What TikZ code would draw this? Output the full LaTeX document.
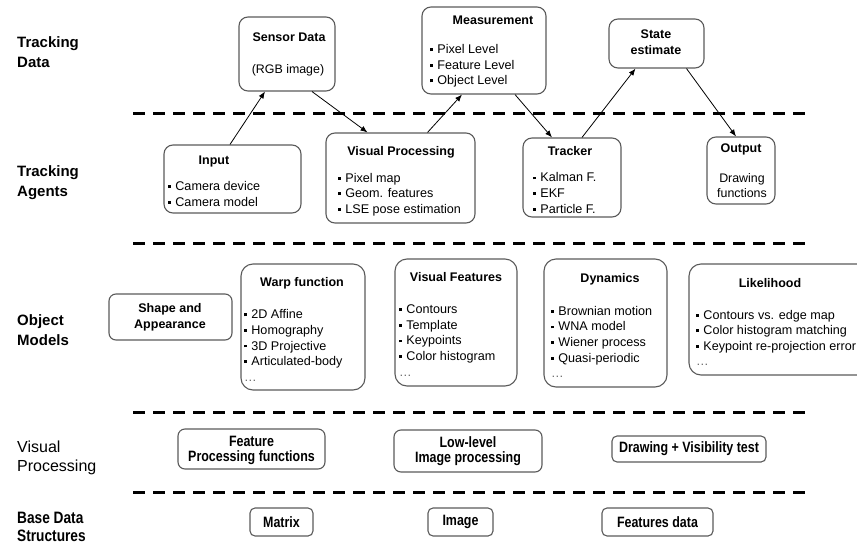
\documentclass[tikz,border=0pt]{standalone}
\usepackage{fontspec}
\setmainfont{Liberation Sans}
\newfontfamily\narrowfont[FakeStretch=0.83]{Liberation Sans}
\usetikzlibrary{positioning, arrows.meta, fit, calc}
\definecolor{boxgray}{HTML}{5A5A5A}
\newcommand{\bul}{\raisebox{2.6pt}{\rule{2.8pt}{2.8pt}}\hspace{4.4pt}}

\begin{document}
\begin{tikzpicture}[%
		x=1pt, y=-1pt,
		layer/.style={
			font=\fontsize{15}{20}\selectfont\bfseries,
			anchor=west,
			align=left,
			inner sep=0pt
		},
		lowlayer/.style={
			font=\fontsize{16}{19}\selectfont,
			anchor=west,
			align=left,
			inner sep=0pt
		},
		separator/.style={
			line width=3pt,
			dash pattern=on 12pt off 8pt
		},
		block/.style={
			rectangle,
			rounded corners=9pt,
			line width=1.1pt,
			draw=boxgray,
			inner sep=0pt
		},
		smallblock/.style={
			block,
			rounded corners=5pt
		},
		head/.style={
			font=\fontsize{12.5}{16}\selectfont\bfseries,
			align=center,
			inner sep=0pt
		},
		items/.style={
			font=\fontsize{12.6}{15.6}\selectfont,
			anchor=west,
			align=left,
			inner sep=0pt
		},
		plain/.style={
			font=\fontsize{12.4}{15}\selectfont,
			align=center,
			inner sep=0pt
		},
		basetext/.style={
			font=\narrowfont\fontsize{15}{15}\selectfont\bfseries,
			align=center,
			inner sep=0pt
		},
		flow/.style={
			line width=0.8pt,
			-{Latex[length=7pt,width=5.5pt]}
		}]

		\useasboundingbox (0,0) rectangle (857,544);

		% LAYER NAMES

		\node (L1) [layer] at (17,52) {Tracking\\Data};
		\node (L2) [layer] at (17,183) {Tracking\\Agents};
		\node (L3) [layer] at (17,330) {Object\\Models};
		\node (L4) [lowlayer] at (17,458) {Visual\\Processing};
		\node (L5) [lowlayer,font=\narrowfont\fontsize{16.5}{18}\selectfont\bfseries] at (17,527) {Base Data\\Structures};

		% SEPARATORS

		\coordinate (s1a) at (133,113); \coordinate (s1b) at (806,113);
		\coordinate (s2a) at (133,243); \coordinate (s2b) at (806,243);
		\coordinate (s3a) at (133,412); \coordinate (s3b) at (806,412);
		\coordinate (s4a) at (133,492); \coordinate (s4b) at (806,492);
		\draw[separator] (s1a) -- (s1b);
		\draw[separator] (s2a) -- (s2b);
		\draw[separator] (s3a) -- (s3b);
		\draw[separator] (s4a) -- (s4b);

		% TRACKING DATA

		\node (sens) [block, fit={(239,17) (335,91)}] {};
		\node (sens-h) [head] at (289,37) {Sensor Data};
		\node (sens-t) [plain] at (288,70) {(RGB image)};

		\node (meas) [block, fit={(422,7) (546,94)}] {};
		\node (meas-h) [head] at (493,20) {Measurement};
		\node (meas-l) [items] at (430,66) {\bul Pixel Level\\ \bul Feature Level\\ \bul Object Level};

		\node (state) [block, fit={(609,19) (704,68)}] {};
		\node (state-h) [head] at (656,42) {State\\estimate};

		% TRACKING AGENTS

		\node (inp) [block, fit={(164,145) (301,213)}] {};
		\node (inp-h) [head] at (214,161) {Input};
		\node (inp-l) [items] at (168,194) {\bul Camera device\\ \bul Camera model};

		\node (vp) [block, fit={(326,133) (475,223)}] {};
		\node (vp-h) [head] at (401,152) {Visual Processing};
		\node (vp-l) [items] at (338,194.5) {\bul Pixel map\\ \bul Geom. features\\ \bul LSE pose estimation};

		\node (trk) [block, fit={(523,138) (621,217)}] {};
		\node (trk-h) [head] at (570,151) {Tracker};
		\node (trk-l) [items] at (533,193) {\bul Kalman F.\\ \bul EKF\\ \bul Particle F.};

		\node (out) [block, fit={(707,137) (775,204)}] {};
		\node (out-h) [head] at (741,149) {Output};
		\node (out-t) [plain] at (742,186) {Drawing\\functions};

		% OBJECT MODELS

		\node (shape) [block, rounded corners=7pt, fit={(109,294) (232,340)}] {};
		\node (shape-h) [head] at (170,317) {Shape and\\Appearance};

		\node (warp) [block, rounded corners=12pt, fit={(241,264) (365,390)}] {};
		\node (warp-h) [head] at (302,283) {Warp function};
		\node (warp-l) [items] at (244,345.5) {\bul 2D Affine\\ \bul Homography\\ \bul 3D Projective\\ \bul Articulated-body\\ {\color{black!60}\dots}};

		\node (feat) [block, rounded corners=12pt, fit={(395,259) (517,386)}] {};
		\node (feat-h) [head] at (456,277) {Visual Features};
		\node (feat-l) [items] at (399,340.5) {\bul Contours\\ \bul Template\\ \bul Keypoints\\ \bul Color histogram\\ {\color{black!60}\dots}};

		\node (dyn) [block, rounded corners=12pt, fit={(544,259) (667,387)}] {};
		\node (dyn-h) [head] at (610,279) {Dynamics};
		\node (dyn-l) [items] at (551,342) {\bul Brownian motion\\ \bul WNA model\\ \bul Wiener process\\ \bul Quasi-periodic\\ {\color{black!60}\dots}};

		\node (lik) [block, rounded corners=12pt, fit={(689,264) (870,375)}] {};
		\node (lik-h) [head] at (770,283) {Likelihood};
		\node (lik-l) [items] at (696,338) {\bul Contours vs. edge map\\ \bul Color histogram matching\\ \bul Keypoint re-projection error\\ {\color{black!60}\dots}};

		% VISUAL PROCESSING

		\node (fpf) [smallblock, rounded corners=7pt, fit={(178,429) (325,469)}] {};
		\node (fpf-t) [basetext] at (251.5,450) {Feature\\Processing functions};

		\node (llip) [smallblock, rounded corners=7pt, fit={(394,430) (542,472)}] {};
		\node (llip-t) [basetext] at (468,451) {Low-level\\Image processing};

		\node (dvt) [smallblock, fit={(612,436) (766,462)}] {};
		\node (dvt-t) [basetext] at (689,449) {Drawing + Visibility test};

		% BASE DATA STRUCTURES

		\node (mat) [smallblock, fit={(250,508) (313,536)}] {};
		\node (mat-t) [basetext] at (281.5,522) {Matrix};

		\node (img) [smallblock, fit={(428,508) (493,536)}] {};
		\node (img-t) [basetext] at (460.5,522) {Image};

		\node (fdat) [smallblock, fit={(602,508) (713,536)}] {};
		\node (fdat-t) [basetext] at (657.5,522) {Features data};

		% DATA FLOW

		\draw[flow] ([xshift=-2.5pt]inp.north) -- ([xshift=-22pt]sens.south);
		\draw[flow] ([xshift=25pt]sens.south) -- ([xshift=-33pt]vp.north);
		\draw[flow] ([xshift=27pt]vp.north) -- ([xshift=-22pt]meas.south);
		\draw[flow] ([xshift=31pt]meas.south) -- ([xshift=-20pt]trk.north);
		\draw[flow] ([xshift=10pt]trk.north) -- ([xshift=-21pt]state.south);
		\draw[flow] ([xshift=30pt]state.south) -- ([xshift=-5pt]out.north);
\end{tikzpicture}
\end{document}
